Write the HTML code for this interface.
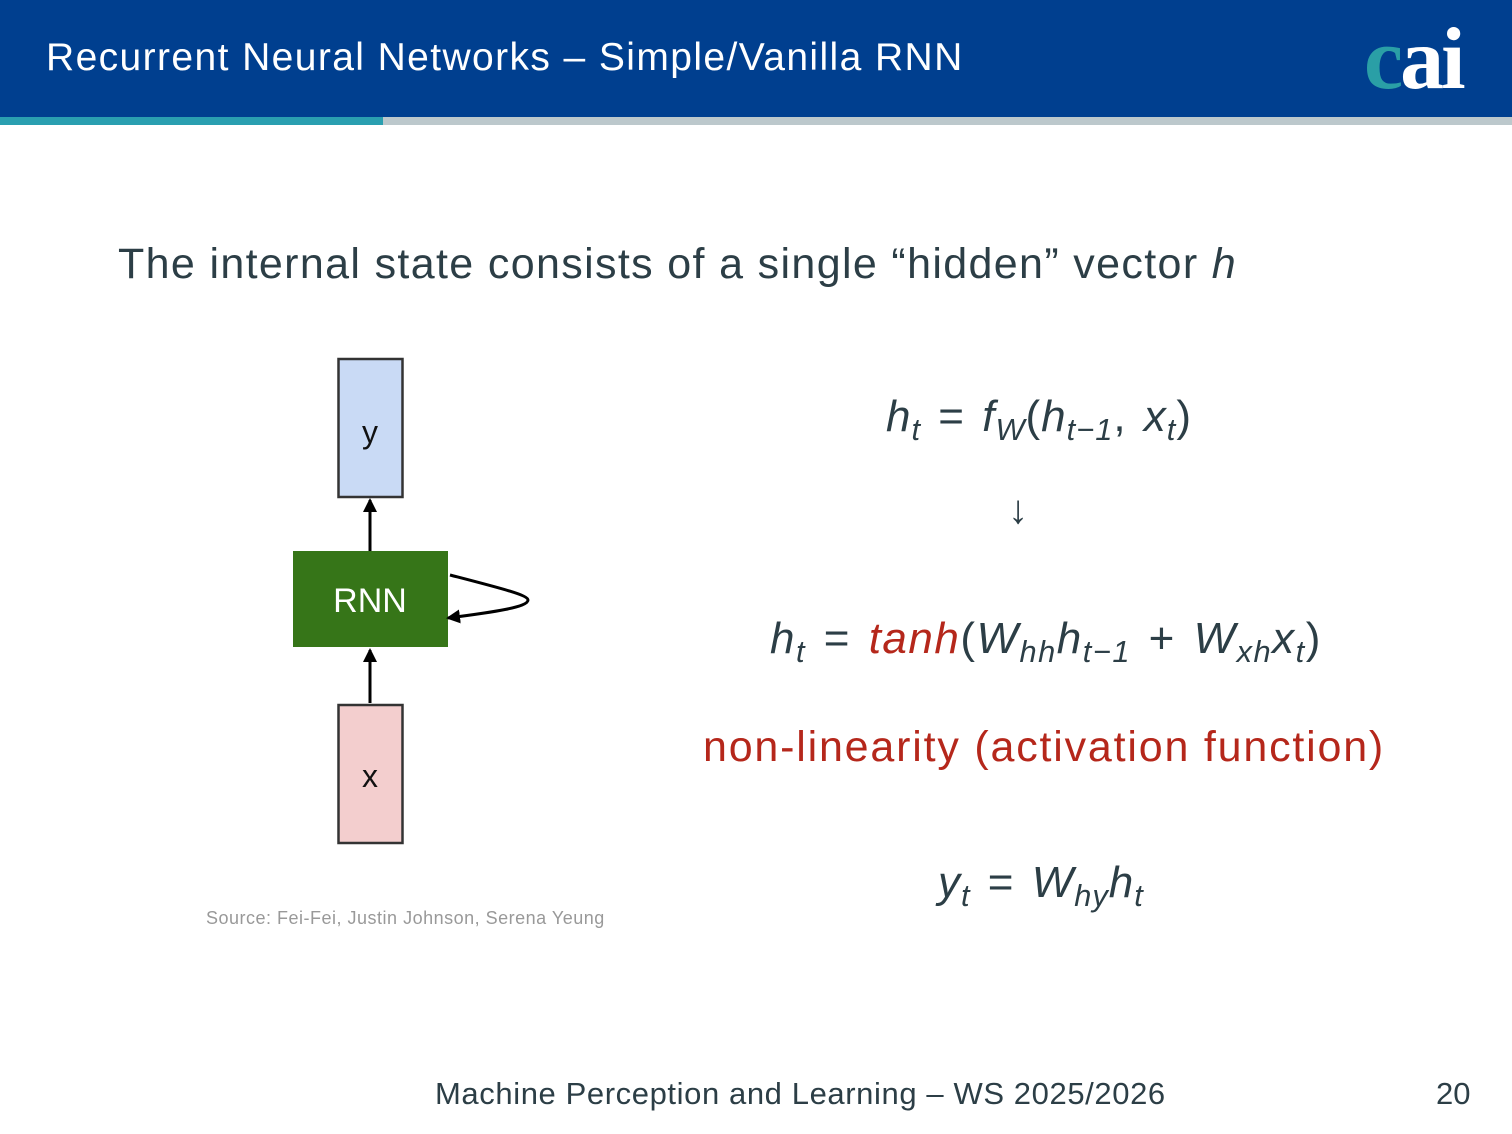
<!DOCTYPE html>
<html><head><meta charset="utf-8"><style>
body{margin:0;width:1512px;height:1134px;position:relative;background:#fff;overflow:hidden;font-family:"Liberation Sans",sans-serif;color:#2c3e46}
.a{position:absolute;white-space:nowrap}
sub{font-size:0.7em;vertical-align:-0.3em;font-style:italic}
.r{color:#b5271b}
.eq{letter-spacing:1px;word-spacing:4px}
</style></head><body>
<div class="a" style="left:0;top:0;width:1512px;height:117px;background:#003f8f"></div>
<div class="a" style="left:0;top:117px;width:383px;height:8px;background:#2a9fb0"></div>
<div class="a" style="left:383px;top:117px;width:1129px;height:8px;background:#bcc8cc"></div>
<div class="a" style="left:46px;top:36px;font-size:39px;color:#fff;letter-spacing:1.4px">Recurrent Neural Networks – Simple/Vanilla RNN</div>
<div class="a" style="left:1364px;top:18px;font-family:'Liberation Serif',serif;font-weight:bold;font-size:88px;line-height:84px;letter-spacing:-3px"><span style="color:#2a9fa6">c</span><span style="color:#fff">ai</span></div>
<div class="a" style="left:118px;top:240px;font-size:43px;color:#2c3e46;letter-spacing:1.35px">The internal state consists of a single “hidden” vector <i>h</i></div>
<svg class="a" style="left:280px;top:350px" width="260" height="500">
<defs><marker id="ah" markerWidth="14" markerHeight="14" refX="12" refY="7" orient="auto" markerUnits="userSpaceOnUse"><path d="M0,0 L14,7 L0,14z" fill="#000"/></marker></defs>
<rect x="58.5" y="9" width="64" height="138" fill="#c9daf5" stroke="#333" stroke-width="2.5"/>
<text x="90" y="93" font-size="32" text-anchor="middle" font-family="Liberation Sans" fill="#111">y</text>
<rect x="13" y="201" width="155" height="96" fill="#367518"/>
<text x="90" y="262" font-size="34" text-anchor="middle" font-family="Liberation Sans" fill="#fff">RNN</text>
<rect x="58.5" y="355" width="64" height="138" fill="#f3cece" stroke="#333" stroke-width="2.5"/>
<text x="90" y="437" font-size="32" text-anchor="middle" font-family="Liberation Sans" fill="#111">x</text>
<line x1="90" y1="201" x2="90" y2="150" stroke="#000" stroke-width="3" marker-end="url(#ah)"/>
<line x1="90" y1="353" x2="90" y2="300" stroke="#000" stroke-width="3" marker-end="url(#ah)"/>
<path d="M170,225 C220,238 248,245 248,250 C248,257 215,262 168,268" fill="none" stroke="#000" stroke-width="3" marker-end="url(#ah)"/>
</svg>
<div class="a" style="left:206px;top:908px;font-size:18px;color:#999;letter-spacing:0.5px">Source: Fei-Fei, Justin Johnson, Serena Yeung</div>
<div class="a eq" style="left:886px;top:392px;font-size:44px"><i>h</i><sub>t</sub> = <i>f</i><sub>W</sub>(<i>h</i><sub>t−1</sub>, <i>x</i><sub>t</sub>)</div>
<div class="a" style="left:1008px;top:488px;font-size:40px">↓</div>
<div class="a eq" style="left:770px;top:614px;font-size:44px;letter-spacing:1.5px"><i>h</i><sub>t</sub> = <i class="r">tanh</i>(<i>W</i><sub>hh</sub><i>h</i><sub>t−1</sub> + <i>W</i><sub>xh</sub><i>x</i><sub>t</sub>)</div>
<div class="a r" style="left:703px;top:723px;font-size:43px;letter-spacing:1.8px">non-linearity (activation function)</div>
<div class="a eq" style="left:938px;top:858px;font-size:44px"><i>y</i><sub>t</sub> = <i>W</i><sub>hy</sub><i>h</i><sub>t</sub></div>
<div class="a" style="left:435px;top:1076px;font-size:31px;color:#2c3e46;letter-spacing:0.6px">Machine Perception and Learning – WS 2025/2026</div>
<div class="a" style="left:1436px;top:1076px;font-size:31px;color:#2c3e46">20</div>
</body></html>
